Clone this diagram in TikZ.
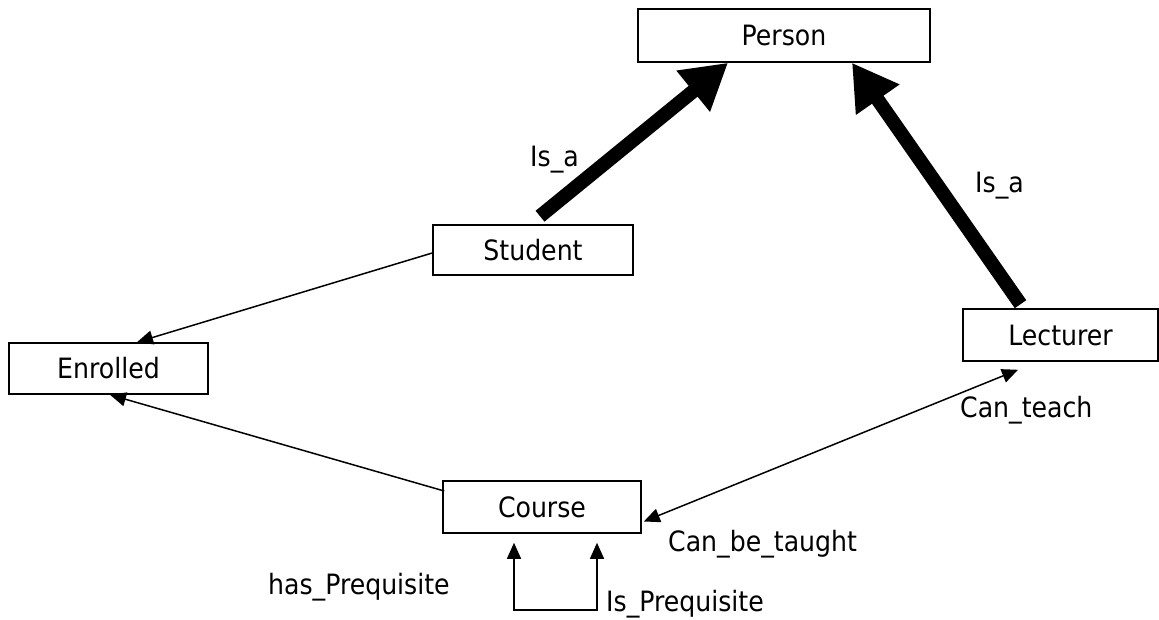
\documentclass[tikz,border=0pt]{standalone}
\usepackage{fontspec}
\setmainfont{DejaVu Sans Condensed}
\usetikzlibrary{arrows.meta}
\begin{document}
\begin{tikzpicture}[x=1pt,y=-1pt,
  box/.style={draw,line width=1.6pt,minimum width=#1,minimum height=51pt,inner sep=0pt,font=\fontsize{28}{30}\selectfont},
  box/.default=199pt,
  lbl/.style={font=\fontsize{28}{30}\selectfont,inner sep=0pt,anchor=west,text height=20pt,text depth=6pt},
  thin/.style={line width=1.5pt,-{Triangle[length=16pt,width=14pt]}},
  both/.style={line width=1.5pt,{Triangle[length=16pt,width=14pt]}-{Triangle[length=16pt,width=14pt]}},
  heavy/.style={line width=14pt,-{Triangle[length=45pt,width=50pt]}}]
\useasboundingbox (0,0) rectangle (1159,620);
\node[box=292pt,minimum height=53pt] (person) at (784,35.5) {Person};
\node[box=200pt,minimum height=50pt] (student) at (533,250) {Student};
\node[box] (enrolled) at (108.5,368.5) {Enrolled};
\node[box=195pt,minimum height=52pt] (lecturer) at (1060.5,335) {Lecturer};
\node[box=198pt,minimum height=52pt] (course) at (542,507) {Course};
% Is_a arrows
\draw[heavy] ([xshift=7pt,yshift=8pt]student.north) -- ([xshift=-56pt]person.south);
\draw[heavy] ([xshift=-40pt,yshift=4pt]lecturer.north) -- ([xshift=68pt]person.south);
% thin arrows
\draw[thin] ([yshift=-3pt]student.west) -- ([xshift=28.5pt]enrolled.north);
\draw[thin] ([xshift=2pt,yshift=16pt]course.west) -- ([xshift=1.5pt]enrolled.south);
\draw[both] ([xshift=2pt,yshift=-14.5pt]course.east) -- ([xshift=-42.5pt,yshift=-8pt]lecturer.south);
\draw[both] ([xshift=-28pt,yshift=-9pt]course.south) -- ++(0,67) -| ([xshift=55pt,yshift=-9pt]course.south);
% labels
\node[lbl] (isa1) at (530,160) {Is\_a};
\node[lbl] (isa2) at (975,186) {Is\_a};
\node[lbl] (canteach) at (960,410) {Can\_teach};
\node[lbl] (cantaught) at (668,544) {Can\_be\_taught};
\node[lbl] (hasp) at (268,587) {has\_Prequisite};
\node[lbl] (isp) at (606,604) {Is\_Prequisite};
\end{tikzpicture}
\end{document}
